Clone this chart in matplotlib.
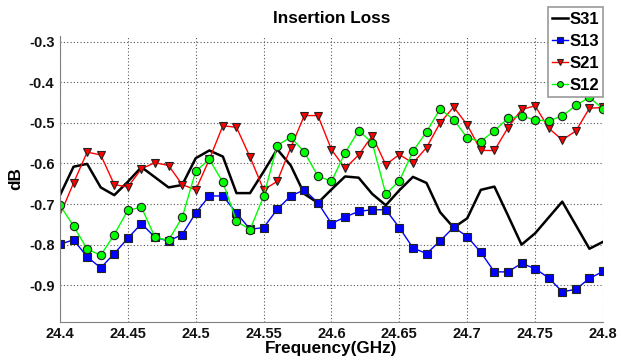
import matplotlib
matplotlib.use("Agg")
import matplotlib.pyplot as plt
import matplotlib.ticker as mticker
import numpy as np

# ── Data (dB, 24.4 – 24.8 GHz in 0.01 GHz steps) ──
freq_start = 24.4
freq_step = 0.01

s31 = [-0.678, -0.608, -0.601, -0.659, -0.678, -0.645, -0.609, -0.634, -0.659, -0.653,
       -0.587, -0.568, -0.583, -0.673, -0.673, -0.620, -0.565, -0.605, -0.675, -0.697,
       -0.664, -0.632, -0.635, -0.675, -0.703, -0.666, -0.633, -0.648, -0.720, -0.758,
       -0.735, -0.665, -0.657, -0.728, -0.800, -0.772, -0.733, -0.694, -0.752, -0.810,
       -0.793]
s13 = [-0.799, -0.788, -0.830, -0.857, -0.822, -0.784, -0.748, -0.782, -0.791, -0.775,
       -0.722, -0.680, -0.680, -0.722, -0.762, -0.758, -0.713, -0.680, -0.665, -0.697,
       -0.748, -0.732, -0.718, -0.714, -0.714, -0.758, -0.808, -0.822, -0.791, -0.757,
       -0.780, -0.819, -0.867, -0.867, -0.846, -0.859, -0.882, -0.916, -0.910, -0.883,
       -0.866]
s21 = [-0.727, -0.648, -0.572, -0.579, -0.652, -0.658, -0.613, -0.598, -0.605, -0.652,
       -0.665, -0.590, -0.507, -0.511, -0.584, -0.665, -0.644, -0.561, -0.482, -0.482,
       -0.566, -0.612, -0.579, -0.532, -0.603, -0.578, -0.599, -0.561, -0.500, -0.461,
       -0.505, -0.568, -0.568, -0.512, -0.467, -0.458, -0.513, -0.542, -0.520, -0.464,
       -0.462]
s12 = [-0.703, -0.754, -0.811, -0.826, -0.775, -0.715, -0.708, -0.782, -0.789, -0.733,
       -0.619, -0.590, -0.646, -0.742, -0.763, -0.681, -0.556, -0.535, -0.572, -0.631,
       -0.644, -0.574, -0.519, -0.549, -0.675, -0.643, -0.570, -0.522, -0.466, -0.492,
       -0.537, -0.546, -0.519, -0.489, -0.483, -0.493, -0.495, -0.483, -0.457, -0.437,
       -0.466]

xticks = [24.4, 24.45, 24.5, 24.55, 24.6, 24.65, 24.7, 24.75, 24.8]
yticks = [-0.9, -0.8, -0.7, -0.6, -0.5, -0.4, -0.3]

freq = freq_start + freq_step * np.arange(len(s31))

plt.rcParams["font.family"] = ["Liberation Sans", "DejaVu Sans"]
plt.rcParams["font.weight"] = "bold"

fig = plt.figure(figsize=(6.21, 3.62), dpi=100)
ax = fig.add_axes([0.0966, 0.111, 0.8744, 0.7896])

ax.plot(freq, s31, color="black", lw=1.8, label="S31")
ax.plot(freq, s13, color="#0000ff", lw=1.0, marker="s", ms=5.3,
        mfc="#0000ff", mec="#222222", mew=0.8, label="S13")
ax.plot(freq, s21, color="#ff0000", lw=1.0, marker="v", ms=6.0,
        mfc="#ff0000", mec="#222222", mew=0.8, markevery=list(range(1, len(s21))),
        label="S21")
ax.plot(freq, s12, color="#00ff00", lw=1.0, marker="o", ms=6.0,
        mfc="#00ff00", mec="#222222", mew=0.8, label="S12")

ax.set_xlim(24.4, 24.8)
ax.set_ylim(-0.99, -0.286)
ax.set_xticks(xticks)
ax.set_yticks(yticks)
ax.xaxis.set_major_formatter(mticker.FormatStrFormatter("%g"))
ax.yaxis.set_major_formatter(mticker.FormatStrFormatter("%g"))
ax.grid(True, color="#555555", linestyle=(0, (1, 2)), lw=0.8)

for side in ("top", "right"):
    ax.spines[side].set_visible(False)
for side in ("left", "bottom"):
    ax.spines[side].set_color("#808080")
ax.tick_params(direction="in", length=0, labelsize=10.5, colors="#111111", pad=4)
for lab in ax.get_xticklabels() + ax.get_yticklabels():
    lab.set_fontweight("bold")

ax.set_title("Insertion Loss", fontsize=12.3, fontweight="bold", pad=9)
ax.set_xlabel("Frequency(GHz)", fontsize=12.3, fontweight="bold", labelpad=0)
ax.set_ylabel("dB", fontsize=12.3, fontweight="bold", labelpad=4)

leg = ax.legend(loc="upper right", bbox_to_anchor=(1.0, 1.10), fontsize=12,
                handlelength=1.0, handletextpad=0.05, borderpad=0.25,
                labelspacing=0.42, borderaxespad=0, fancybox=False,
                framealpha=1, edgecolor="#999999", markerscale=0.7)
leg.get_frame().set_linewidth(1.2)
for t in leg.get_texts():
    t.set_fontweight("bold")

fig.savefig("out.png", dpi=100, facecolor="white")
